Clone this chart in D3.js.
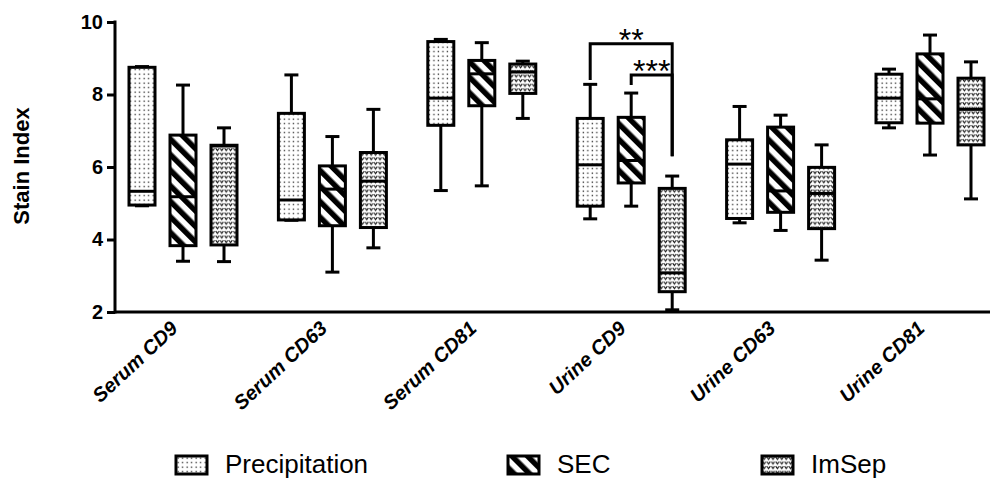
<!DOCTYPE html>
<html>
<head>
<meta charset="utf-8">
<script src="https://d3js.org/d3.v7.min.js"></script>
<style>
  body { margin: 0; background: #fff; }
  text { font-family: "Liberation Sans", Arial, sans-serif; }
</style>
</head>
<body>
<div id="chart"></div>
<script>
// categories
var groups = ['Serum CD9', 'Serum CD63', 'Serum CD81', 'Urine CD9', 'Urine CD63', 'Urine CD81'];
var methods = ['Precipitation', 'SEC', 'ImSep'];

// box values per group: [min, q1, median, q3, max]
var precipitation = [
    [4.93, 4.95, 5.33, 8.75, 8.77],
    [4.53, 4.54, 5.09, 7.48, 8.54],
    [5.35, 7.15, 7.90, 9.46, 9.52],
    [4.57, 4.92, 6.06, 7.34, 8.28],
    [4.46, 4.58, 6.08, 6.75, 7.67],
    [7.08, 7.22, 7.90, 8.56, 8.70]
];
var sec = [
    [3.40, 3.83, 5.18, 6.88, 8.26],
    [3.10, 4.38, 5.39, 6.03, 6.84],
    [5.48, 7.69, 8.57, 8.94, 9.43],
    [4.92, 5.56, 6.18, 7.37, 8.04],
    [4.25, 4.75, 5.34, 7.10, 7.43],
    [6.33, 7.21, 7.88, 9.12, 9.64]
];
var imsep = [
    [3.39, 3.85, 6.58, 6.60, 7.08],
    [3.77, 4.33, 5.61, 6.40, 7.59],
    [7.34, 8.03, 8.62, 8.84, 8.92],
    [2.06, 2.56, 3.08, 5.41, 5.75],
    [3.43, 4.30, 5.27, 5.99, 6.61],
    [5.12, 6.61, 7.59, 8.45, 8.90]
];

// y ticks
var yTicks = [2, 4, 6, 8, 10];

// significance brackets (group, from, to, bracket level, left leg end, right leg end)
var sigGroups = ['Urine CD9', 'Urine CD9'];
var sigFrom = ['Precipitation', 'SEC'];
var sigTo = ['ImSep', 'ImSep'];
var sigLabels = ['**', '***'];
var sigLevel = [9.40, 8.54];
var sigLeftEnd = [8.40, 8.26];
var sigRightEnd = [6.30, 6.30];

var seriesValues = { 'Precipitation': precipitation, 'SEC': sec, 'ImSep': imsep };
var fills = { 'Precipitation': 'url(#dots)', 'SEC': 'url(#stripes)', 'ImSep': 'url(#vees)' };

var width = 991, height = 479;
var lineW = 3;
var boxW = 26;
var capW = 14;

var svg = d3.select('#chart')
    .append('svg')
    .attr('width', width)
    .attr('height', height);

// patterns
var defs = svg.append('defs');
var dots = defs.append('pattern')
    .attr('id', 'dots')
    .attr('patternUnits', 'userSpaceOnUse')
    .attr('width', 4.5)
    .attr('height', 4.5);
dots.append('rect').attr('width', 4.5).attr('height', 4.5).attr('fill', '#fff');
dots.append('rect').attr('x', 1.5).attr('y', 1.5).attr('width', 1.3).attr('height', 1.3).attr('fill', '#222');

var stripes = defs.append('pattern')
    .attr('id', 'stripes')
    .attr('patternUnits', 'userSpaceOnUse')
    .attr('width', 11)
    .attr('height', 11)
    .attr('patternTransform', 'rotate(-45)');
stripes.append('rect').attr('width', 11).attr('height', 11).attr('fill', '#fff');
stripes.append('rect').attr('width', 5.5).attr('height', 11).attr('fill', '#000');

var vees = defs.append('pattern')
    .attr('id', 'vees')
    .attr('patternUnits', 'userSpaceOnUse')
    .attr('width', 4.4)
    .attr('height', 4.6);
vees.append('rect').attr('width', 4.4).attr('height', 4.6).attr('fill', '#fff');
vees.append('path')
    .attr('d', 'M0.6,1.0 L2.2,3.5 L3.8,1.0')
    .attr('fill', 'none')
    .attr('stroke', '#111')
    .attr('stroke-width', 1.0);

// scales
var y = d3.scaleLinear().domain([2, 10]).range([312, 22]);
var x = d3.scalePoint().domain(groups).range([183, 930]);
var xSub = d3.scalePoint().domain(methods).range([-41, 41]);

// y axis
var yAxis = svg.append('g')
    .attr('transform', 'translate(115,0)')
    .call(d3.axisLeft(y).tickValues(yTicks).tickSize(8).tickSizeOuter(0).tickPadding(4));
yAxis.select('.domain').remove();
yAxis.selectAll('line').attr('stroke', '#000').attr('stroke-width', lineW);
yAxis.selectAll('text')
    .attr('fill', '#000')
    .style('font-size', '20px')
    .style('font-weight', 'bold');

svg.append('line')
    .attr('x1', 115).attr('x2', 115)
    .attr('y1', y(10) - 1.5).attr('y2', y(2) + 1.5)
    .attr('stroke', '#000').attr('stroke-width', lineW);
svg.append('line')
    .attr('x1', 115).attr('x2', 990)
    .attr('y1', y(2)).attr('y2', y(2))
    .attr('stroke', '#000').attr('stroke-width', lineW);

// y title
svg.append('text')
    .attr('transform', 'translate(29,166) rotate(-90)')
    .attr('text-anchor', 'middle')
    .style('font-size', '22px')
    .style('font-weight', 'bold')
    .text('Stain Index');

// x labels
svg.selectAll('.xlabel')
    .data(groups)
    .enter()
    .append('text')
    .attr('class', 'xlabel')
    .attr('transform', function(d) { return 'translate(' + (x(d) - 4) + ',330) rotate(-43)'; })
    .attr('text-anchor', 'end')
    .style('font-size', '20px')
    .style('font-weight', 'bold')
    .style('font-style', 'italic')
    .text(function(d) { return d; });

// boxes
var boxData = [];
methods.forEach(function(m) {
    groups.forEach(function(g, i) {
        var v = seriesValues[m][i];
        boxData.push({ group: g, method: m, min: v[0], q1: v[1], median: v[2], q3: v[3], max: v[4] });
    });
});

var boxes = svg.selectAll('.box')
    .data(boxData)
    .enter()
    .append('g')
    .attr('class', 'box')
    .attr('transform', function(d) { return 'translate(' + (x(d.group) + xSub(d.method)) + ',0)'; });

// whiskers
boxes.append('line')
    .attr('x1', 0).attr('x2', 0)
    .attr('y1', function(d) { return y(d.max); })
    .attr('y2', function(d) { return y(d.min); })
    .attr('stroke', '#000').attr('stroke-width', lineW);
boxes.append('line')
    .attr('x1', -capW / 2).attr('x2', capW / 2)
    .attr('y1', function(d) { return y(d.max); })
    .attr('y2', function(d) { return y(d.max); })
    .attr('stroke', '#000').attr('stroke-width', lineW);
boxes.append('line')
    .attr('x1', -capW / 2).attr('x2', capW / 2)
    .attr('y1', function(d) { return y(d.min); })
    .attr('y2', function(d) { return y(d.min); })
    .attr('stroke', '#000').attr('stroke-width', lineW);

boxes.append('rect')
    .attr('x', -boxW / 2)
    .attr('width', boxW)
    .attr('y', function(d) { return y(d.q3); })
    .attr('height', function(d) { return y(d.q1) - y(d.q3); })
    .attr('fill', function(d) { return fills[d.method]; })
    .attr('stroke', '#000')
    .attr('stroke-width', lineW);

boxes.append('line')
    .attr('x1', -boxW / 2).attr('x2', boxW / 2)
    .attr('y1', function(d) { return y(d.median); })
    .attr('y2', function(d) { return y(d.median); })
    .attr('stroke', '#000').attr('stroke-width', lineW);

// significance brackets
sigLabels.forEach(function(lab, i) {
    var x1 = x(sigGroups[i]) + xSub(sigFrom[i]);
    var x2 = x(sigGroups[i]) + xSub(sigTo[i]);
    var yl = y(sigLevel[i]);
    svg.append('path')
        .attr('d', 'M' + x1 + ',' + y(sigLeftEnd[i]) + 'V' + yl + 'H' + x2 + 'V' + y(sigRightEnd[i]))
        .attr('fill', 'none')
        .attr('stroke', '#000')
        .attr('stroke-width', lineW);
    svg.append('text')
        .attr('x', (x1 + x2) / 2)
        .attr('y', yl + 7)
        .attr('text-anchor', 'middle')
        .style('font-size', '32px')
        .text(lab);
});

// legend
var legendX = [176, 508, 762];
var legend = svg.selectAll('.legend')
    .data(methods)
    .enter()
    .append('g')
    .attr('class', 'legend')
    .attr('transform', function(d, i) { return 'translate(' + legendX[i] + ',456)'; });
legend.append('rect')
    .attr('width', 31)
    .attr('height', 18)
    .attr('fill', function(d) { return fills[d]; })
    .attr('stroke', '#000')
    .attr('stroke-width', lineW);
legend.append('text')
    .attr('x', 49)
    .attr('y', 17)
    .style('font-size', '26px')
    .text(function(d) { return d; });
</script>
</body>
</html>
